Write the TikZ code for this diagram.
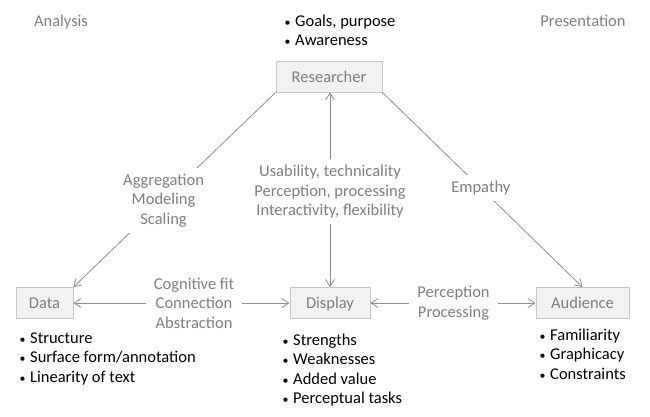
\documentclass[tikz,border=0pt]{standalone}
\usepackage{fontspec}
\usepackage{graphicx}
\setmainfont{Carlito}
\usetikzlibrary{arrows.meta}
\definecolor{lblcol}{HTML}{7F7F7F}
\definecolor{boxfill}{HTML}{F2F2F2}
\definecolor{boxline}{HTML}{C6C6C6}
\definecolor{conncol}{HTML}{8E8E8E}
\newcommand\bul{\makebox[12pt][l]{\hspace{1.5pt}\scalebox{0.72}{•}}}
\begin{document}
\begin{tikzpicture}[x=1pt,y=-1pt,
  every node/.style={font=\fontsize{16.5}{19.5}\selectfont},
  actor/.style={draw=boxline, fill=boxfill, text=lblcol, minimum height=31pt,
    inner sep=0pt, line width=0.8pt, text height=11pt, text depth=0pt},
  lab/.style={text=lblcol, align=center, fill=white, inner sep=6pt},
  cornerlab/.style={text=lblcol, inner sep=0pt, anchor=base},
  item/.style={text=black, inner sep=0pt, anchor=base west},
  connline/.style={draw=conncol, line width=0.8pt},
  onearrow/.style={-{Straight Barb[length=7pt,width=9pt]}},
  twoarrow/.style={{Straight Barb[length=7pt,width=9pt]}-{Straight Barb[length=7pt,width=9pt]}}
]
\useasboundingbox (0,0) rectangle (650,416);

% corner labels
\node[cornerlab] (analysis) at (61,26.5) {Analysis};
\node[cornerlab] (presentation) at (583,26.5) {Presentation};

% actors
\node[actor, minimum width=106pt] (res) at (329,76.5) {Researcher};
\node[actor, minimum width=57pt] (data) at (44.5,303) {Data};
\node[actor, minimum width=80pt] (disp) at (330,303) {Display};
\node[actor, minimum width=93pt] (aud) at (582.5,303) {Audience};

% connectors
\draw[connline, onearrow] (res.south west) -- node[lab, pos=0.554] (aggr) {Aggregation\\Modeling\\Scaling} (data.north east);
\draw[connline, onearrow] (res.south east) -- node[lab, pos=0.492] (emp) {Empathy} (aud.north);
\draw[connline, twoarrow] (disp.north) -- node[lab, pos=0.49] (usab) {Usability, technicality\\Perception, processing\\Interactivity, flexibility} (disp.north |- res.south);
\draw[connline, twoarrow] (data.east) -- node[lab, pos=0.558, inner xsep=7.5pt] (cogn) {Cognitive fit\\Connection\\Abstraction} (disp.west);
\draw[connline, twoarrow] (disp.east) -- node[lab, pos=0.503, inner xsep=8pt] (perc) {Perception\\Processing} (aud.west);

% bullet lists
\node[item] (r1) at (283,26.5) {\bul Goals, purpose};
\node[item] (r2) at (283,45.8) {\bul Awareness};

\node[item] (d1) at (18,343) {\bul Structure};
\node[item] (d2) at (18,362.5) {\bul Surface form/annotation};
\node[item] (d3) at (18,382) {\bul Linearity of text};

\node[item] (s1) at (281,345) {\bul Strengths};
\node[item] (s2) at (281,364.5) {\bul Weaknesses};
\node[item] (s3) at (281,384) {\bul Added value};
\node[item] (s4) at (281,403.5) {\bul Perceptual tasks};

\node[item] (a1) at (538,340) {\bul Familiarity};
\node[item] (a2) at (538,359.5) {\bul Graphicacy};
\node[item] (a3) at (538,379) {\bul Constraints};
\end{tikzpicture}
\end{document}
